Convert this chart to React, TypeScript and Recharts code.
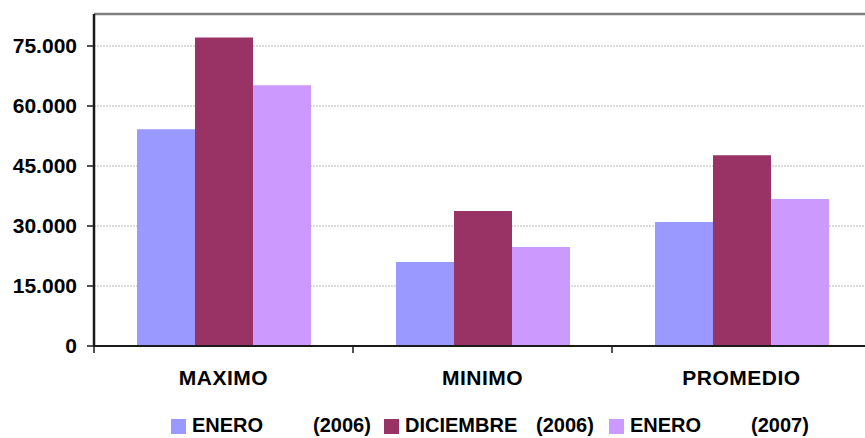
import React from "react";
import { BarChart, Bar, XAxis, YAxis, CartesianGrid, ReferenceLine } from "recharts";

const categories = ["MAXIMO", "MINIMO", "PROMEDIO"];
const enero2006 = [54200, 21000, 31000];
const diciembre2006 = [77150, 33750, 47700];
const enero2007 = [65200, 24750, 36750];
const yTicks = [0, 15000, 30000, 45000, 60000, 75000];
const yMax = 83000;

const seriesKeys = ["enero2006", "diciembre2006", "enero2007"];
const seriesNames = ["ENERO", "DICIEMBRE", "ENERO"];
const seriesYears = ["(2006)", "(2006)", "(2007)"];
const seriesColors = ["#9999FF", "#993366", "#CC99FF"];

const data = categories.map((c, i) => ({
  name: c,
  enero2006: enero2006[i],
  diciembre2006: diciembre2006[i],
  enero2007: enero2007[i],
}));

const FONT = '"Liberation Sans", Arial, sans-serif';
const X_TICK_SIZE = 6;
const X_TICK_MARGIN = 18;
const AXIS_COLOR = "#1a1a1a";

// legend layout (px)
const legendNameWidths = [121, 131, 121];
const legendYearWidths = [71, 73, 70];

const fmt = (v: number) => String(v).replace(/\B(?=(\d{3})+(?!\d))/g, ".");

const XTick = (props: any) => {
  const { x, y, payload } = props;
  const half = payload && typeof payload.offset === "number" && payload.offset > 0 ? payload.offset : 129.5;
  const axisY = y - X_TICK_SIZE - X_TICK_MARGIN;
  return (
    <g>
      <line x1={x - half} x2={x - half} y1={axisY} y2={axisY + X_TICK_SIZE + 1} stroke={AXIS_COLOR} strokeWidth={1.5} />
      <text
        x={x}
        y={y}
        dy="0.71em"
        textAnchor="middle"
        fill="#000"
        fontSize={21}
        fontWeight="bold"
        fontFamily={FONT}
        letterSpacing={0.5}
      >
        {payload.value}
      </text>
    </g>
  );
};

export default function App() {
  return (
    <div
      style={{
        position: "absolute",
        left: 0,
        top: 0,
        width: 865,
        height: 438,
        overflow: "hidden",
        background: "#fff",
        fontFamily: FONT,
      }}
    >
      <BarChart
        width={880}
        height={438}
        data={data}
        margin={{ top: 14, right: 9, bottom: 0, left: 0 }}
        barCategoryGap="16.6%"
        barGap={0}
      >
        <CartesianGrid vertical={false} stroke="#b8b8b8" strokeDasharray="2 1" />
        <XAxis
          dataKey="name"
          axisLine={{ stroke: AXIS_COLOR, strokeWidth: 2 }}
          tickLine={false}
          tickSize={X_TICK_SIZE}
          tickMargin={X_TICK_MARGIN}
          tick={<XTick />}
          interval={0}
          height={92}
        />
        <YAxis
          width={94}
          domain={[0, yMax]}
          ticks={yTicks}
          tickFormatter={fmt}
          axisLine={{ stroke: AXIS_COLOR, strokeWidth: 2.5 }}
          tickLine={{ stroke: AXIS_COLOR, strokeWidth: 1.5 }}
          tickSize={7}
          tickMargin={10}
          tick={{ fill: "#000", fontSize: 21, fontWeight: "bold", fontFamily: FONT }}
          allowDataOverflow
        />
        <ReferenceLine y={yMax} stroke="#808080" strokeWidth={2.5} />
        {seriesKeys.map((k, i) => (
          <Bar key={k} dataKey={k} fill={seriesColors[i]} isAnimationActive={false} />
        ))}
      </BarChart>
      <div
        style={{
          position: "absolute",
          left: 171,
          top: 415,
          display: "flex",
          alignItems: "flex-start",
          fontSize: 20,
          lineHeight: "20px",
          fontWeight: "bold",
          color: "#000",
          whiteSpace: "nowrap",
        }}
      >
        {seriesNames.map((n, i) => (
          <div key={i} style={{ display: "flex", alignItems: "flex-start" }}>
            <div style={{ width: 15, height: 15, marginTop: 4, marginRight: 6, background: seriesColors[i] }} />
            <span style={{ display: "inline-block", width: legendNameWidths[i] }}>{n}</span>
            <span style={{ display: "inline-block", width: legendYearWidths[i] }}>{seriesYears[i]}</span>
          </div>
        ))}
      </div>
    </div>
  );
}
